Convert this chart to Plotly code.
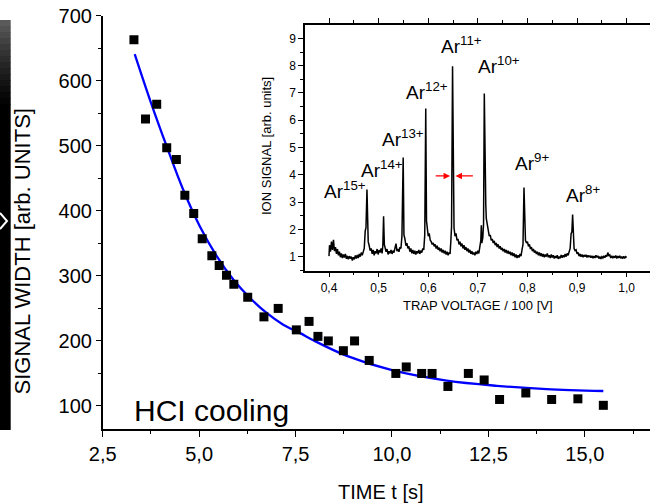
import plotly.graph_objects as go

# ---------------- data ----------------
# main panel: cooling measurement
time_s = [3.31, 3.61, 3.90, 4.16, 4.41, 4.63, 4.86, 5.08, 5.33, 5.52, 5.71, 5.90,
          6.26, 6.68, 7.05, 7.52, 7.85, 8.08, 8.35, 8.74, 9.03, 9.41, 10.10, 10.37,
          10.77, 11.04, 11.45, 11.98, 12.39, 12.79, 13.47, 14.14, 14.82, 15.48]
signal_width = [663, 541, 564, 497, 479, 424, 396, 357, 331, 316, 301, 287,
                267, 237, 250, 217, 230, 207, 200, 185, 200, 170, 150, 160,
                150, 150, 130, 150, 140, 110, 120, 110, 111, 101]

# exponential fit curve
fit_t = [3.33, 3.73, 4.16, 4.59, 5.02, 5.46, 5.89, 6.32, 6.75, 7.18, 7.62,
         7.96, 8.83, 10.0, 11.42, 12.72, 14.01, 15.48]
fit_w = [641, 570, 499, 432, 376, 330, 294, 266, 243, 225, 212,
         201, 177, 155, 139, 131, 126, 123]

# inset: ion spectrum
trap_v = [0.400, 0.401, 0.403, 0.405, 0.407, 0.409, 0.411, 0.413, 0.415, 0.417, 0.419, 0.421,
          0.423, 0.425, 0.427, 0.429, 0.431, 0.433, 0.435, 0.437, 0.439, 0.441, 0.443, 0.445,
          0.447, 0.449, 0.451, 0.453, 0.455, 0.457, 0.459, 0.461, 0.463, 0.465, 0.467, 0.469,
          0.471, 0.473, 0.4745, 0.4765, 0.478, 0.479, 0.481, 0.483, 0.485, 0.487, 0.489, 0.491,
          0.493, 0.495, 0.497, 0.499, 0.501, 0.503, 0.505, 0.507, 0.5085, 0.510, 0.5115, 0.513,
          0.515, 0.517, 0.519, 0.521, 0.523, 0.525, 0.527, 0.529, 0.531, 0.533, 0.535, 0.537,
          0.539, 0.541, 0.543, 0.545, 0.547, 0.5495, 0.551, 0.553, 0.555, 0.557, 0.559, 0.561,
          0.563, 0.565, 0.567, 0.569, 0.571, 0.573, 0.575, 0.577, 0.579, 0.581, 0.583, 0.585,
          0.587, 0.589, 0.591, 0.593, 0.595, 0.5965, 0.598, 0.600, 0.602, 0.604, 0.606, 0.608,
          0.610, 0.612, 0.614, 0.616, 0.618, 0.620, 0.622, 0.624, 0.626, 0.628, 0.630, 0.632,
          0.634, 0.636, 0.638, 0.640, 0.642, 0.644, 0.6455, 0.647, 0.649, 0.6505, 0.652, 0.654,
          0.656, 0.658, 0.660, 0.662, 0.664, 0.666, 0.668, 0.670, 0.672, 0.674, 0.676, 0.678,
          0.680, 0.682, 0.684, 0.686, 0.688, 0.690, 0.692, 0.694, 0.696, 0.698, 0.700, 0.702,
          0.704, 0.706, 0.707, 0.708, 0.710, 0.7115, 0.713, 0.7145, 0.716, 0.717, 0.719, 0.721,
          0.723, 0.725, 0.727, 0.729, 0.731, 0.733, 0.735, 0.737, 0.739, 0.741, 0.743, 0.745,
          0.747, 0.749, 0.751, 0.753, 0.755, 0.757, 0.759, 0.761, 0.763, 0.765, 0.767, 0.769,
          0.771, 0.773, 0.775, 0.777, 0.779, 0.781, 0.783, 0.785, 0.787, 0.789, 0.791, 0.793,
          0.7945, 0.796, 0.798, 0.800, 0.802, 0.804, 0.806, 0.808, 0.810, 0.812, 0.814, 0.816,
          0.818, 0.820, 0.822, 0.824, 0.826, 0.828, 0.830, 0.832, 0.834, 0.836, 0.838, 0.840,
          0.842, 0.844, 0.846, 0.848, 0.850, 0.852, 0.854, 0.856, 0.858, 0.860, 0.862, 0.864,
          0.866, 0.868, 0.870, 0.872, 0.874, 0.876, 0.878, 0.880, 0.882, 0.884, 0.886, 0.888,
          0.8895, 0.891, 0.8925, 0.894, 0.896, 0.898, 0.900, 0.902, 0.904, 0.906, 0.908, 0.910,
          0.912, 0.914, 0.916, 0.918, 0.920, 0.922, 0.924, 0.926, 0.928, 0.930, 0.932, 0.934,
          0.936, 0.938, 0.940, 0.942, 0.944, 0.946, 0.948, 0.950, 0.952, 0.954, 0.956, 0.958,
          0.960, 0.962, 0.964, 0.966, 0.968, 0.970, 0.972, 0.974, 0.976, 0.978, 0.980, 0.982,
          0.984, 0.986, 0.988, 0.990, 0.992, 0.994, 0.996, 0.998, 1.000]
ion_signal = [1.02, 1.42, 1.18, 1.55, 1.25, 1.62, 1.20, 1.35, 1.10, 1.28, 1.05, 1.18,
              0.98, 1.12, 0.95, 1.08, 0.97, 1.10, 0.92, 1.03, 0.90, 1.02, 0.93, 1.00,
              0.86, 0.98, 0.90, 1.04, 0.93, 1.06, 0.95, 1.10, 1.00, 1.15, 1.05, 1.22,
              1.30, 1.95, 2.05, 3.46, 2.00, 1.55, 1.40, 1.22, 1.30, 1.10, 1.25, 1.05,
              1.20, 1.12, 1.28, 1.08, 1.24, 1.15, 1.30, 1.12, 1.40, 2.48, 1.45, 1.30,
              1.18, 1.28, 1.08, 1.20, 1.12, 1.25, 1.10, 1.22, 1.15, 1.32, 1.48, 1.20,
              1.28, 1.18, 1.35, 1.30, 1.75, 4.63, 1.80, 1.65, 1.40, 1.50, 1.30, 1.38,
              1.18, 1.30, 1.12, 1.25, 1.10, 1.22, 1.08, 1.20, 1.12, 1.25, 1.10, 1.22,
              1.15, 1.30, 1.25, 1.80, 6.43, 2.30, 2.05, 1.75, 1.85, 1.60, 1.55, 1.45,
              1.50, 1.38, 1.45, 1.30, 1.40, 1.25, 1.33, 1.20, 1.30, 1.15, 1.25, 1.12,
              1.22, 1.08, 1.18, 1.05, 1.15, 1.10, 1.55, 2.10, 7.98, 2.40, 2.05, 1.75,
              1.85, 1.60, 1.65, 1.45, 1.55, 1.38, 1.48, 1.30, 1.42, 1.25, 1.35, 1.20,
              1.30, 1.15, 1.25, 1.10, 1.20, 1.08, 1.15, 1.05, 1.18, 1.10, 1.22, 1.12,
              1.35, 1.60, 2.15, 1.50, 1.70, 2.20, 6.98, 3.20, 2.90, 2.40, 2.20, 1.90,
              1.75, 1.80, 1.60, 1.65, 1.50, 1.58, 1.42, 1.50, 1.35, 1.45, 1.30, 1.38,
              1.25, 1.32, 1.20, 1.28, 1.15, 1.25, 1.12, 1.22, 1.10, 1.18, 1.05, 1.15,
              1.02, 1.12, 0.98, 1.08, 0.95, 1.05, 0.97, 1.10, 1.02, 1.25, 1.45, 3.53,
              1.80, 1.60, 1.50, 1.55, 1.38, 1.45, 1.28, 1.35, 1.20, 1.28, 1.15, 1.22,
              1.10, 1.18, 1.05, 1.15, 1.02, 1.12, 1.00, 1.10, 0.98, 1.08, 1.00, 1.12,
              0.98, 1.05, 0.95, 1.08, 0.97, 1.05, 0.93, 1.02, 0.95, 1.05, 0.92, 1.00,
              0.94, 1.06, 0.96, 1.05, 0.98, 1.10, 1.00, 1.12, 1.05, 1.20, 1.30, 1.85,
              1.90, 2.54, 1.40, 1.30, 1.22, 1.25, 1.10, 1.15, 1.02, 1.10, 1.00, 1.08,
              0.98, 1.06, 1.00, 1.07, 0.97, 1.05, 0.98, 1.04, 0.96, 1.03, 0.94, 1.02,
              0.95, 1.05, 0.97, 1.03, 0.93, 1.00, 0.92, 1.00, 0.95, 1.03, 0.96, 1.05,
              1.00, 1.15, 1.02, 1.06, 0.95, 1.03, 0.94, 1.02, 0.96, 1.04, 0.93, 1.02,
              0.95, 1.03, 0.94, 1.00, 0.93, 1.01, 0.94, 1.00, 0.97]

# peak labels (charge states) and their positions
ion_labels = ["15+", "14+", "13+", "12+", "11+", "10+", "9+", "8+"]
label_v = [0.432, 0.506, 0.549, 0.598, 0.667, 0.743, 0.809, 0.911]
label_s = [2.92, 3.69, 4.82, 6.56, 8.24, 7.51, 3.96, 2.80]

# FWHM arrows around the Ar11+ peak
arrow_tail_v = [0.612, 0.693]
arrow_head_v = [0.644, 0.655]
arrow_s = 3.96

W, H = 650, 504
def px(x):
    return x / W
def py(y):
    return 1 - y / H

FONT = "Liberation Sans, Arial, sans-serif"

fig = go.Figure()
fig.add_trace(go.Scatter(x=fit_t, y=fit_w, mode="lines",
                         line=dict(color="#0000ff", width=2.3, shape="spline"),
                         xaxis="x", yaxis="y", hoverinfo="skip"))
fig.add_trace(go.Scatter(x=time_s, y=signal_width, mode="markers",
                         marker=dict(symbol="square", size=9, color="black"),
                         xaxis="x", yaxis="y"))
fig.add_trace(go.Scatter(x=trap_v, y=ion_signal, mode="lines",
                         line=dict(color="black", width=1.5),
                         xaxis="x2", yaxis="y2"))

axis_common = dict(showline=True, linecolor="black", linewidth=1.5, showgrid=False,
                   zeroline=False, tickcolor="black", tickwidth=1.3, automargin=False)

x_range = [2.5, 16.69]
fig.update_layout(
    width=W, height=H, margin=dict(l=0, r=0, t=0, b=0),
    paper_bgcolor="white", plot_bgcolor="rgba(0,0,0,0)",
    showlegend=False, separators=",.",
    font=dict(family=FONT, color="black"),
    xaxis=dict(domain=[px(102.7), 1], range=x_range, anchor="y",
               tick0=2.5, dtick=2.5, tickformat=".1f", ticks="outside", ticklen=6,
               tickfont=dict(size=20),
               minor=dict(dtick=1.25, ticks="outside", ticklen=3.5, tickcolor="black"),
               **axis_common),
    xaxis3=dict(overlaying="x", side="top", range=x_range, anchor="y",
                tick0=2.5, dtick=2.5, ticks="inside", ticklen=7, showticklabels=False,
                minor=dict(dtick=1.25, ticks="inside", ticklen=4, tickcolor="black"),
                **axis_common),
    yaxis=dict(domain=[py(429), py(15.7)], range=[64.6, 700], anchor="x",
               tick0=0, dtick=100, ticks="outside", ticklen=5,
               tickfont=dict(size=20),
               minor=dict(dtick=50, ticks="outside", ticklen=3, tickcolor="black"),
               **axis_common),
    xaxis2=dict(domain=[px(305), 1], range=[0.3516, 1.047], anchor="y2",
                tick0=0, dtick=0.1, tickformat=".1f", ticks="outside", ticklen=5,
                mirror="ticks", tickfont=dict(size=12),
                minor=dict(dtick=0.05, ticks="outside", ticklen=3, tickcolor="black"),
                **axis_common),
    yaxis2=dict(domain=[py(270.7), py(25)], range=[0.485, 9.49], anchor="x2",
                tick0=0, dtick=1, ticks="outside", ticklen=5,
                tickfont=dict(size=12),
                minor=dict(dtick=0.5, ticks="outside", ticklen=3, tickcolor="black"),
                **axis_common),
)

ann = []
def text_ann(text, x, y, size, angle=0):
    return dict(text=text, x=px(x), y=py(y), xref="paper", yref="paper",
                xanchor="center", yanchor="middle", showarrow=False,
                textangle=angle, font=dict(size=size))

ann.append(text_ann("TIME t [s]", 381, 492, 20))
ann.append(text_ann("SIGNAL WIDTH [arb. UNITS]", 22, 251.5, 22, -90))
ann.append(text_ann("HCI cooling", 212, 410, 30))
ann.append(text_ann("TRAP VOLTAGE / 100 [V]", 477.5, 305.3, 13))
ann.append(text_ann("ION SIGNAL [arb. units]", 266, 146, 13, -90))
for lab, lv, ls in zip(ion_labels, label_v, label_s):
    ann.append(dict(text="Ar<sup>" + lab + "</sup>", x=lv, y=ls, xref="x2", yref="y2",
                    xanchor="center", yanchor="bottom", showarrow=False,
                    font=dict(size=19)))
for tv, hv in zip(arrow_tail_v, arrow_head_v):
    ann.append(dict(text="", x=hv, y=arrow_s, ax=tv, ay=arrow_s, xref="x2", yref="y2",
                    axref="x2", ayref="y2", showarrow=True, arrowhead=2, arrowsize=1,
                    arrowwidth=1.3, arrowcolor="#ff0000", standoff=0, startstandoff=0))
fig.update_layout(annotations=ann)

# dark strip at the left border of the original slide
shapes = []
grays = ["#5a5a5a", "#525252", "#4a4a4a", "#424242", "#3a3a3a", "#333333", "#2c2c2c",
         "#252525", "#1f1f1f", "#191919", "#131313", "#0d0d0d", "#080808", "#040404"]
for i, c in enumerate(grays):
    y0 = 20 + i * 6
    shapes.append(dict(type="rect", xref="paper", yref="paper", x0=0, x1=px(10.7),
                       y0=py(y0 + 6.5), y1=py(y0), fillcolor=c, line=dict(width=0),
                       layer="below"))
shapes.append(dict(type="rect", xref="paper", yref="paper", x0=0, x1=px(10.7),
                   y0=py(430), y1=py(20 + len(grays) * 6), fillcolor="#000000",
                   line=dict(width=0), layer="below"))
shapes.append(dict(type="path", xref="paper", yref="paper",
                   path=f"M 0,{py(213)} L {px(7)},{py(221)} L 0,{py(229)}",
                   line=dict(color="white", width=2)))
fig.update_layout(shapes=shapes)

fig.write_html("out.html", config={"displayModeBar": False},
               post_script="document.body.style.margin='0';document.body.style.padding='0';")
